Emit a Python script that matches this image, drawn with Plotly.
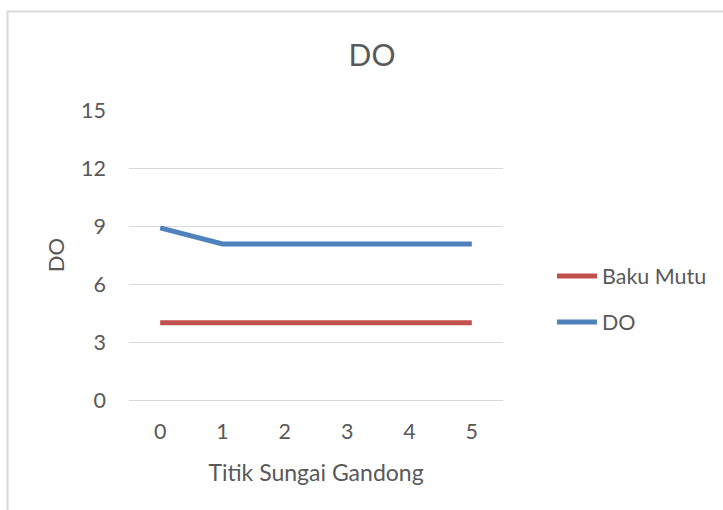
import plotly.graph_objects as go

# Sampling points along the river and measured dissolved oxygen
titik = ["0", "1", "2", "3", "4", "5"]
baku_mutu = [4, 4, 4, 4, 4, 4]
do_values = [8.9, 8.07, 8.07, 8.07, 8.07, 8.07]
y_ticks = [0, 3, 6, 9, 12, 15]

FONT = "Lato, 'Open Sans', sans-serif"
GRID = "#d9d9d9"
TEXT = "#595959"

fig = go.Figure()
fig.add_trace(go.Scatter(
    x=titik, y=baku_mutu, mode="lines", name="Baku Mutu",
    line=dict(color="#C0504D", width=5), legendgroup="a",
))
fig.add_trace(go.Scatter(
    x=titik, y=do_values, mode="lines", name="DO",
    line=dict(color="#4F81BD", width=5), legendgroup="b",
))

fig.update_layout(
    width=723, height=510,
    margin=dict(l=129, r=220, t=110, b=110, autoexpand=False),
    paper_bgcolor="white", plot_bgcolor="white",
    font=dict(family=FONT, color=TEXT, size=21),
    title=dict(text="DO", x=(372 - 129) / 374, xref="paper", xanchor="center",
               y=1 - 55 / 510, yanchor="middle",
               font=dict(size=30, color=TEXT, family=FONT)),
    showlegend=True,
    legend=dict(x=(552 - 129) / 374, y=(400 - 299) / 290, xanchor="left", yanchor="middle",
                traceorder="grouped", tracegroupgap=15,
                font=dict(size=21.5, color=TEXT, family=FONT),
                bgcolor="rgba(0,0,0,0)", itemwidth=40),
    shapes=[dict(type="rect", xref="paper", yref="paper",
                 x0=(7.5 - 129) / 374, x1=2.0, y0=-1.0, y1=(400 - 11.5) / 290,
                 line=dict(color=GRID, width=2), layer="below")],
)

fig.update_xaxes(
    type="category", range=[-0.5, 5.5],
    showgrid=False, showline=False, ticks="", zeroline=False,
    ticklabelstandoff=16,
    title=dict(text="Titik Sungai Gandong", font=dict(size=23, color=TEXT), standoff=22),
    tickfont=dict(size=21.5, color=TEXT),
)
fig.update_yaxes(
    range=[0, 15], tickvals=y_ticks, ticktext=[str(v) for v in y_ticks],
    showgrid=True, gridcolor=GRID, gridwidth=1.3,
    zeroline=True, zerolinecolor=GRID, zerolinewidth=1.3,
    showline=False, ticks="", ticklabelstandoff=22,
    title=dict(text="DO", font=dict(size=22, color=TEXT), standoff=10),
    tickfont=dict(size=21.5, color=TEXT),
)

fig.write_html("out.html")
